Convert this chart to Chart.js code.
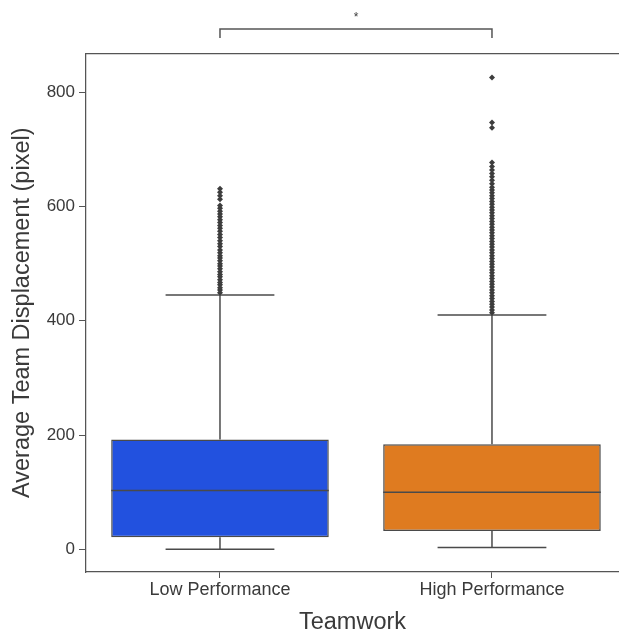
<!DOCTYPE html>
<html>
<head>
<meta charset="utf-8">
<script src="https://cdn.jsdelivr.net/npm/chart.js@4"></script>
<style>
  html,body{margin:0;padding:0;background:#fff;overflow:hidden;}
  #wrap{width:623px;height:639px;}
</style>
</head>
<body>
<div id="wrap"><canvas id="c"></canvas></div>
<script>
// ── data ──
const groups     = ['Low Performance', 'High Performance'];
const q1         = [21, 32];
const medians    = [103, 100];
const q3         = [192, 184];
const whiskLo    = [0, 3];
const whiskHi    = [445, 410];
const lowOutliers  = [449,454,458,463,467,472,477,481,486,491,496,500,505,510,514,519,524,530,535,540,
                      546,551,557,562,567,572,577,582,587,592,597,602,613,619,625,631];
const highOutliers = [414,419,424,429,434,439,444,449,454,459,464,469,474,479,484,489,494,499,504,509,
                      514,519,524,529,534,539,544,549,554,559,564,569,574,579,584,589,594,599,604,609,
                      614,619,624,629,634,640,646,652,658,664,670,677,738,747,826];
const yTicks     = [0, 200, 400, 600, 800];
const boxColors  = ['#2251df', '#df7b20'];
const sigLabel   = '*';

const EDGE = '#4a4a4a';
const AXIS = '#555555';
const TXT  = '#3a3a3a';
const FONT = "'Liberation Sans', Arial, sans-serif";

// whisker / cap / median segments, one dataset each
function seg(x0, x1, y0, y1, order){
  return {type:'scatter', showLine:true, data:[{x:x0,y:y0},{x:x1,y:y1}],
          borderColor:EDGE, borderWidth:1.5, pointRadius:0, order:order};
}
const segs = [];
groups.forEach((g,i)=>{
  segs.push(seg(i, i, whiskLo[i], q1[i], 2));
  segs.push(seg(i, i, q3[i], whiskHi[i], 2));
  segs.push(seg(i-0.2, i+0.2, whiskLo[i], whiskLo[i], 2));
  segs.push(seg(i-0.2, i+0.2, whiskHi[i], whiskHi[i], 2));
  segs.push(seg(i-0.4, i+0.4, medians[i], medians[i], 0));
});

const outlierSets = [lowOutliers, highOutliers].map((arr,i)=>({
  type:'scatter', data:arr.map(v=>({x:i,y:v})),
  pointStyle:'rectRot', pointRadius:3, backgroundColor:'#3d3d3d',
  borderColor:'#3d3d3d', borderWidth:0, order:1
}));

const framePlug = {
  id:'frame',
  afterDraw(chart){
    const {ctx, chartArea:{top,left,right}, scales:{x}} = chart;
    ctx.save();
    ctx.strokeStyle=AXIS; ctx.lineWidth=1.25;
    ctx.beginPath(); ctx.moveTo(left, top); ctx.lineTo(right, top); ctx.stroke();

    // significance bracket
    const x0 = x.getPixelForValue(0), x1 = x.getPixelForValue(1);
    const by = top-24.5, drop = 9;
    ctx.lineWidth=1.5;
    ctx.beginPath();
    ctx.moveTo(x0, by+drop); ctx.lineTo(x0, by); ctx.lineTo(x1, by); ctx.lineTo(x1, by+drop);
    ctx.stroke();
    ctx.fillStyle=TXT;
    ctx.font='12px '+FONT;
    ctx.textAlign='center'; ctx.textBaseline='middle';
    ctx.fillText(sigLabel, (x0+x1)/2, by-11);
    ctx.restore();
  }
};

new Chart(document.getElementById('c'), {
  type:'scatter',
  plugins:[framePlug],
  data:{
    datasets:[
      {type:'bar', data:groups.map((g,i)=>({x:i, y:[q1[i], q3[i]]})),
       backgroundColor:boxColors, borderColor:EDGE, borderWidth:1.5, borderSkipped:false,
       categoryPercentage:0.8, barPercentage:1, order:3},
      ...segs,
      ...outlierSets
    ]
  },
  options:{
    responsive:true, maintainAspectRatio:false, animation:false,
    layout:{padding:{top:53.5, left:0, right:0, bottom:0}},
    plugins:{legend:{display:false}, tooltip:{enabled:false}},
    scales:{
      x:{type:'linear', min:-0.4926, max:1.467, offset:false,
         afterBuildTicks(s){ s.ticks = groups.map((g,i)=>({value:i})); },
         afterFit(s){ s.height = 67; s.paddingLeft = 0; s.paddingRight = 0; },
         ticks:{callback:(v)=>groups[v], color:TXT, font:{family:FONT,size:18}, padding:1, maxRotation:0},
         grid:{display:true, drawOnChartArea:false, drawTicks:true, tickLength:6, tickColor:AXIS, offset:false},
         border:{display:true, color:AXIS, width:1.25},
         title:{display:true, text:'Teamwork', color:TXT, font:{family:FONT,size:23.5}, padding:{top:2,bottom:2.5}}},
      y:{type:'linear', min:-39.8, max:868,
         afterBuildTicks(s){ s.ticks = yTicks.map(v=>({value:v})); },
         afterFit(s){ s.width = 86; },
         ticks:{color:TXT, font:{family:FONT,size:17}, padding:4},
         grid:{display:true, drawOnChartArea:false, drawTicks:true, tickLength:7, tickColor:AXIS},
         border:{display:true, color:AXIS, width:1.25},
         title:{display:true, text:'Average Team Displacement (pixel)', color:TXT,
                font:{family:FONT,size:23.5}, padding:{top:8,bottom:0}}}
    }
  }
});
</script>
</body>
</html>
